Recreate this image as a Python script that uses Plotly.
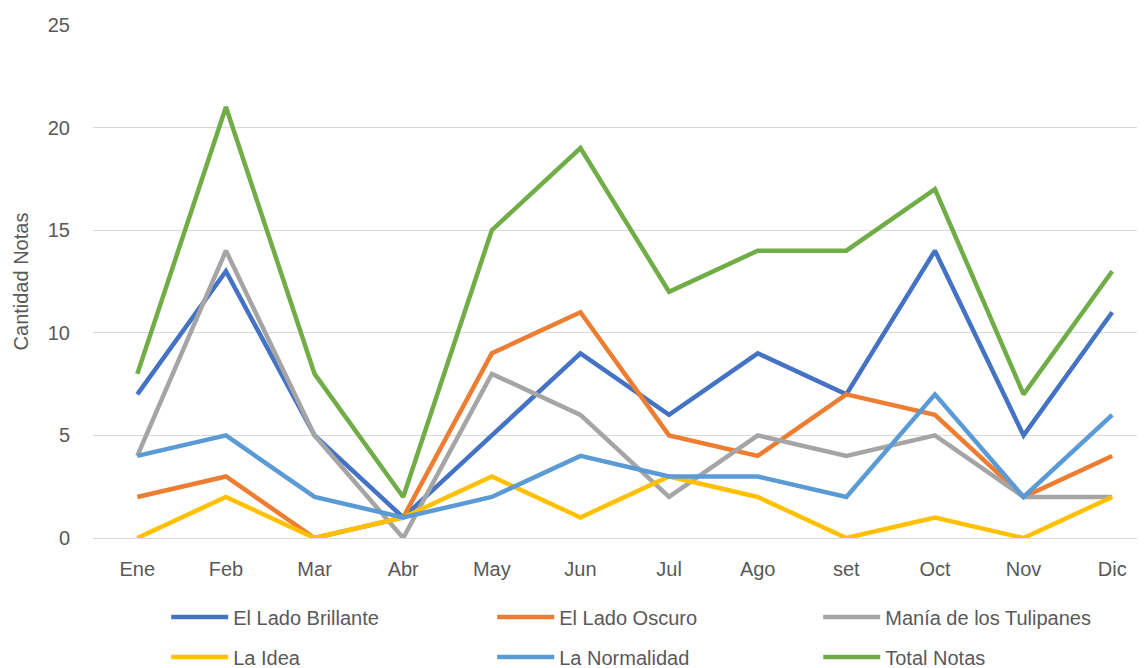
import plotly.graph_objects as go

months = ["Ene", "Feb", "Mar", "Abr", "May", "Jun", "Jul", "Ago", "set", "Oct", "Nov", "Dic"]

lado_brillante = [7, 13, 5, 1, 5, 9, 6, 9, 7, 14, 5, 11]
lado_oscuro = [2, 3, 0, 1, 9, 11, 5, 4, 7, 6, 2, 4]
tulipanes = [4, 14, 5, 0, 8, 6, 2, 5, 4, 5, 2, 2]
la_idea = [0, 2, 0, 1, 3, 1, 3, 2, 0, 1, 0, 2]
normalidad = [4, 5, 2, 1, 2, 4, 3, 3, 2, 7, 2, 6]
total_notas = [8, 21, 8, 2, 15, 19, 12, 14, 14, 17, 7, 13]

series = [
    ("El Lado Brillante", lado_brillante, "#4472C4", "legend"),
    ("El Lado Oscuro", lado_oscuro, "#ED7D31", "legend"),
    ("Manía de los Tulipanes", tulipanes, "#A5A5A5", "legend"),
    ("La Idea", la_idea, "#FFC000", "legend2"),
    ("La Normalidad", normalidad, "#5B9BD5", "legend2"),
    ("Total Notas", total_notas, "#70AD47", "legend2"),
]

fig = go.Figure()
for name, vals, color, leg in series:
    fig.add_trace(go.Scatter(
        x=months, y=vals, name=name, mode="lines",
        line=dict(color=color, width=4.5), legend=leg,
    ))

font = "Liberation Sans"
txt = "#595959"
legend_common = dict(
    orientation="h", x=0.0696, xanchor="left", yanchor="middle",
    entrywidth=254, entrywidthmode="pixels", itemwidth=57,
    font=dict(size=20, color=txt), bgcolor="rgba(0,0,0,0)",
)

# page body adds an 8px offset, margins compensate for it
fig.update_layout(
    width=1145, height=668,
    margin=dict(l=85, r=8, t=17, b=138, autoexpand=False),
    paper_bgcolor="white", plot_bgcolor="white",
    font=dict(family=font, size=20, color=txt),
    xaxis=dict(
        type="category", range=[-0.5, 11.37],
        showgrid=False, showline=False, ticks="",
        ticklabelstandoff=17,
        tickfont=dict(size=20, color=txt),
    ),
    yaxis=dict(
        range=[0, 25], dtick=5,
        showgrid=True, gridcolor="#D9D9D9", gridwidth=1,
        zeroline=True, zerolinecolor="#D9D9D9", zerolinewidth=1,
        showline=False, ticks="",
        ticklabelstandoff=22,
        tickfont=dict(size=20, color=txt),
        title=dict(text="Cantidad Notas", font=dict(size=20, color=txt), standoff=13),
    ),
    legend=dict(legend_common, y=-0.154),
    legend2=dict(legend_common, y=-0.232),
)

fig.write_html("out.html")
